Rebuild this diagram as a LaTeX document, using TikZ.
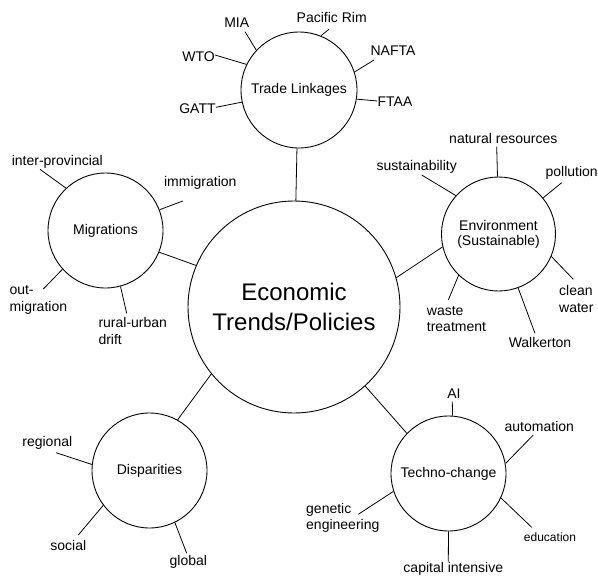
\documentclass[tikz,border=0pt]{standalone}
\usepackage{fontspec}
\setmainfont{Liberation Sans}
\begin{document}
\begin{tikzpicture}[x=1pt,y=-1pt,
  hub/.style={circle, draw, line width=0.9pt, inner sep=0pt, align=center,
              font=\fontsize{14}{15}\selectfont},
  leaf/.style={inner sep=0pt, font=\fontsize{14}{16.6}\selectfont},
  twoline/.style={leaf, align=left, anchor=west},
  spoke/.style={line width=0.8pt}]
\useasboundingbox (0,0) rectangle (598,576);

% central hub and the five themes
\node[hub, minimum size=212pt, font=\fontsize{24}{29.4}\selectfont] (econ) at (294,307) {Economic\\Trends/Policies};
\node[hub, minimum size=116pt] (trade) at (299,90) {Trade Linkages};
\node[hub, minimum size=114pt] (env) at (498.5,234) {Environment\\(Sustainable)};
\node[hub, minimum size=115pt] (mig) at (105.5,230.5) {Migrations};
\node[hub, minimum size=115pt] (disp) at (149.5,470.5) {Disparities};
\node[hub, minimum size=115pt] (tech) at (448.5,473.5) {Techno-change};

\draw[spoke] (econ.89) -- (trade.268);
\draw[spoke] (econ.16.5) -- (env.193);
\draw[spoke] (econ.157.6) -- (mig.338);
\draw[spoke] (econ.219.7) -- (disp.61.4);
\draw[spoke] (econ.312.6) -- (tech.136.6);

% Trade Linkages
\node[leaf] (mia) at (236.7,22.7) {MIA};
\node[leaf] (pac) at (331.7,17.3) {Pacific Rim};
\node[leaf] (wto) at (198.5,56.7) {WTO};
\node[leaf] (nafta) at (393,50.7) {NAFTA};
\node[leaf] (gatt) at (197.5,108.3) {GATT};
\node[leaf] (ftaa) at (395,101.7) {FTAA};
\coordinate (miaE) at (245,31.7);
\coordinate (pacE) at (329,29.3);
\coordinate (wtoE) at (215,55);
\coordinate (naftaE) at (374,60);
\coordinate (gattE) at (216,107.3);
\coordinate (ftaaE) at (377.3,101);
\draw[spoke] (trade.137.4) -- (miaE);
\draw[spoke] (trade.68.9) -- (pacE);
\draw[spoke] (trade.154.9) -- (wtoE);
\draw[spoke] (trade.18.6) -- (naftaE);
\draw[spoke] (trade.192.5) -- (gattE);
\draw[spoke] (trade.351.8) -- (ftaaE);

% Environment
\node[leaf] (natres) at (503.3,138.3) {natural resources};
\node[leaf] (sust) at (416.7,166.7) {sustainability};
\node[leaf] (poll) at (571.7,173.3) {pollution};
\node[twoline] (clean) at (559,299) {clean\\water};
\node[leaf] (walk) at (540,342.7) {Walkerton};
\node[twoline] (waste) at (426.7,319) {waste\\treatment};
\coordinate (natresE) at (496.7,146.7);
\coordinate (sustE) at (421.7,175);
\coordinate (pollE) at (561.7,182.7);
\coordinate (cleanE) at (573.3,279.3);
\coordinate (walkE) at (535,333.3);
\coordinate (wasteE) at (448.3,300);
\draw[spoke] (env.91.8) -- (natresE);
\draw[spoke] (env.138.1) -- (sustE);
\draw[spoke] (env.39.7) -- (pollE);
\draw[spoke] (env.337.5) -- (cleanE);
\draw[spoke] (env.290.6) -- (walkE);
\draw[spoke] (env.226.3) -- (wasteE);

% Migrations
\node[leaf] (inter) at (57.3,161.7) {inter-provincial};
\node[leaf] (immig) at (200.3,183.3) {immigration};
\node[twoline] (outmig) at (9.3,300) {out-\\migration};
\node[twoline] (rural) at (98.3,331) {rural-urban\\drift};
\coordinate (interE) at (40,169.3);
\coordinate (immigE) at (182.7,201);
\coordinate (outmigE) at (43.3,289);
\coordinate (ruralE) at (126.7,313.3);
\draw[spoke] (mig.133.1) -- (interE);
\draw[spoke] (mig.21.2) -- (immigE);
\draw[spoke] (mig.222.1) -- (outmigE);
\draw[spoke] (mig.285.2) -- (ruralE);

% Disparities
\node[leaf] (reg) at (47.3,443.3) {regional};
\node[leaf] (soc) at (68.3,545) {social};
\node[leaf] (glob) at (188.3,561.7) {global};
\coordinate (regE) at (56,452.7);
\coordinate (socE) at (78.3,535);
\coordinate (globE) at (186.7,553.3);
\draw[spoke] (disp.174.6) -- (regE);
\draw[spoke] (disp.217.5) -- (socE);
\draw[spoke] (disp.296) -- (globE);

% Techno-change
\node[leaf] (ai) at (454,393.3) {AI};
\node[leaf] (auto) at (539.3,426) {automation};
\node[twoline] (gen) at (306,518) {genetic\\engineering};
\node[leaf, font=\fontsize{12}{14}\selectfont] (edu) at (550,537.7) {education};
\node[leaf] (cap) at (453.3,569.3) {capital intensive};
\coordinate (aiE) at (452.3,401.7);
\coordinate (autoE) at (533.3,435);
\coordinate (genE) at (358.3,514.3);
\coordinate (eduE) at (531.7,527.3);
\coordinate (capE) at (448.3,561.7);
\draw[spoke] (tech.86.2) -- (aiE);
\draw[spoke] (tech.10.8) -- (autoE);
\draw[spoke] (tech.198.2) -- (genE);
\draw[spoke] (tech.335.3) -- (eduE);
\draw[spoke] (tech.270.2) -- (capE);
\end{tikzpicture}
\end{document}
